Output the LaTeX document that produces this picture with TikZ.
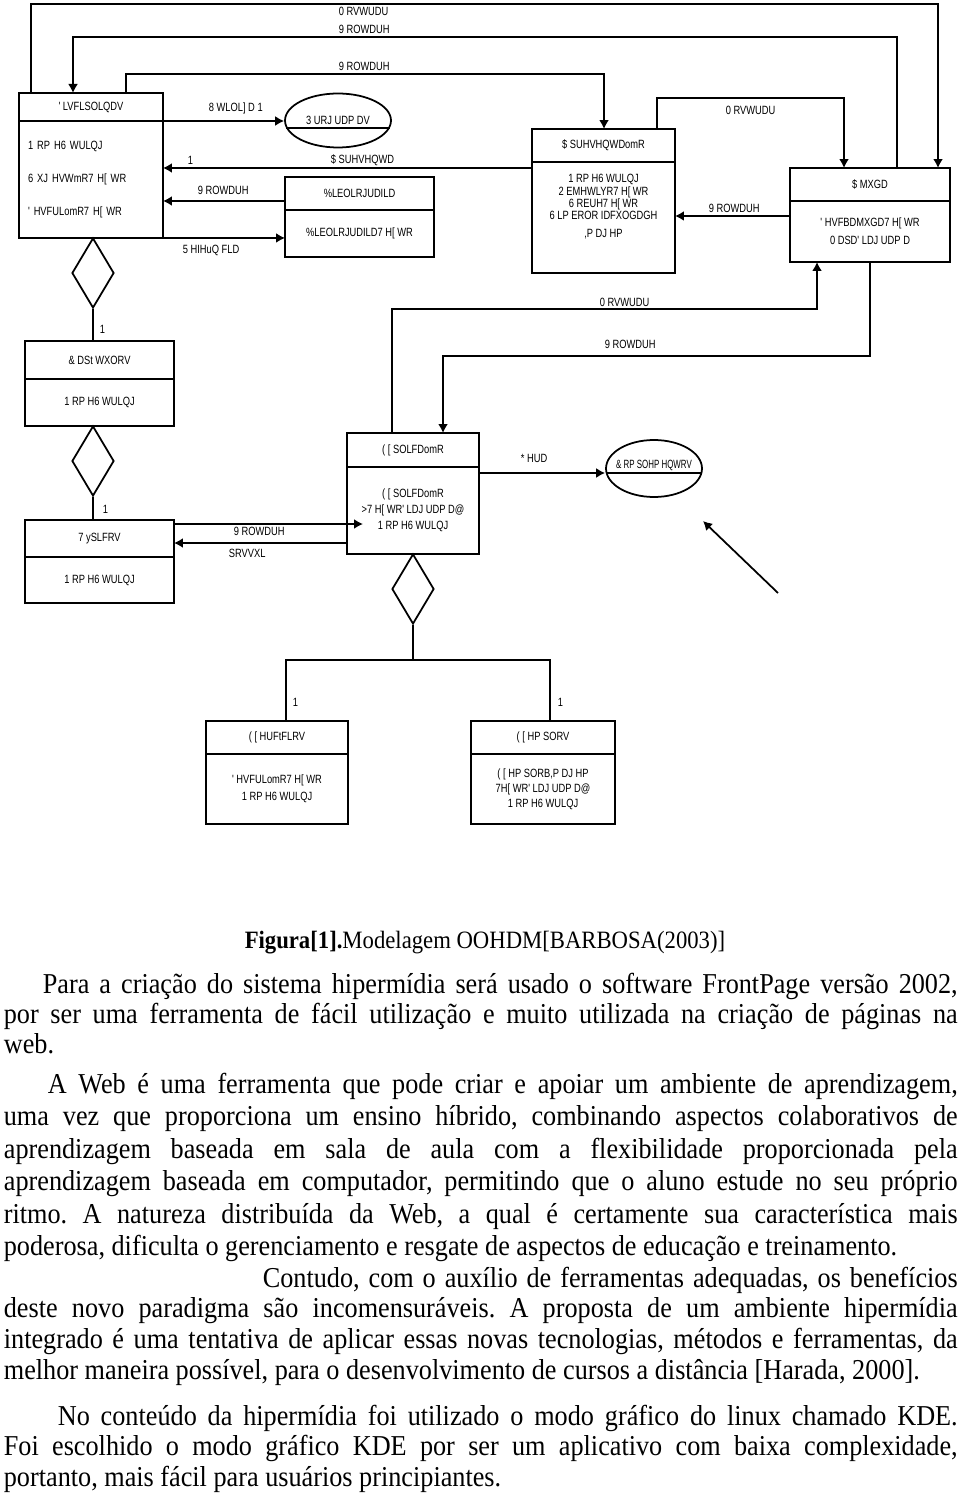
\documentclass[tikz,border=0pt]{standalone}
\usepackage{fontspec}
\setmainfont{Liberation Serif}
\newfontfamily\gfont[FakeStretch=0.78]{Liberation Sans}
\newfontfamily\bodyfont[FakeStretch=0.91]{Liberation Serif}
\usetikzlibrary{positioning,shapes.geometric,arrows.meta}
\tolerance=9999
\hbadness=10000
\frenchspacing
\tikzset{%
  gtext/.style={font=\gfont\fontsize{6.8}{8.5}\selectfont,inner sep=0},
  chead/.style={draw,gtext,inner sep=0,outer sep=0},
  cbody/.style={draw,gtext,inner sep=0,outer sep=0,align=center},
  rel/.style={diamond,draw,inner sep=0,minimum width=0.84cm,minimum height=1.4cm},
  oval/.style={ellipse,draw,inner sep=0},
  para/.style={font=\bodyfont\fontsize{16.4}{#1}\selectfont,text width=19.08cm,align=justify,inner sep=0,anchor=base west}
}
\begin{document}
\begin{tikzpicture}[x=0.02cm,y=-0.02cm,line width=1pt,>={Latex[length=1.8mm,width=2mm]}]
  \useasboundingbox (0,0) rectangle (960,1496);

  % classes
  \node[chead,minimum width=2.88cm,minimum height=0.56cm] (disc) at (91,107) {' LVFLSOLQDV};
  \node[cbody,below=0pt of disc,minimum height=2.34cm,text width=2.52cm,inner xsep=0.18cm,align=left,
        font=\gfont\fontsize{6.8}{18.7}\selectfont] (disc-b) {1 RP H6 WULQJ\\6 XJ HVWmR7 H[ WR\\' HVFULomR7 H[ WR};
  \node[oval,minimum width=2.12cm,minimum height=1.08cm] (prog) at (338,120.5) {};
  \node[gtext] (prog-t) at (338,120) {3 URJ UDP DV};
  \node[chead,minimum width=2.86cm,minimum height=0.66cm] (apres) at (603.5,145.5) {\$ SUHVHQWDomR};
  \node[cbody,below=0pt of apres,minimum width=2.86cm,minimum height=2.22cm,
        font=\gfont\fontsize{6.8}{7.1}\selectfont] (apres-b)
        {1 RP H6 WULQJ\\2 EMHWLYR7 H[ WR\\6 REUH7 H[ WR\\6 LP EROR IDFXOGDGH\\[3pt],P DJ HP\\[6pt]};
  \node[chead,minimum width=2.98cm,minimum height=0.66cm] (bib) at (359.5,193.5) {\%LEOLRJUDILD};
  \node[cbody,below=0pt of bib,minimum width=2.98cm,minimum height=0.94cm] (bib-b) {\%LEOLRJUDILD7 H[ WR};
  \node[chead,minimum width=3.2cm,minimum height=0.66cm] (ajuda) at (870,184.5) {\$ MXGD};
  \node[cbody,below=0pt of ajuda,minimum width=3.2cm,minimum height=1.22cm,
        font=\gfont\fontsize{6.8}{10}\selectfont] (ajuda-b) {' HVFBDMXGD7 H[ WR\\0 DSD' LDJ UDP D};
  \node[rel] (r1) at (93,273) {};
  \node[chead,minimum width=2.98cm,minimum height=0.76cm] (capi) at (99.5,360) {\& DSt WXORV};
  \node[cbody,below=0pt of capi,minimum width=2.98cm,minimum height=0.94cm] (capi-b) {1 RP H6 WULQJ};
  \node[rel] (r2) at (93,461) {};
  \node[chead,minimum width=2.98cm,minimum height=0.74cm] (topi) at (99.5,538.5) {7 ySLFRV};
  \node[cbody,below=0pt of topi,minimum width=2.98cm,minimum height=0.92cm] (topi-b) {1 RP H6 WULQJ};
  \node[chead,minimum width=2.64cm,minimum height=0.68cm] (expl) at (413,450) {( [ SOLFDomR};
  \node[cbody,below=0pt of expl,minimum width=2.64cm,minimum height=1.74cm,
        font=\gfont\fontsize{6.8}{9}\selectfont] (expl-b) {( [ SOLFDomR\\>7 H[ WR' LDJ UDP D@\\1 RP H6 WULQJ};
  \node[oval,minimum width=1.92cm,minimum height=1.14cm] (compl) at (654,468.5) {};
  \node[gtext] (compl-t) at (654,465) {\scalebox{0.85}[1]{\& RP SOHP HQWRV}};
  \node[rel] (r3) at (413,589) {};
  \node[chead,minimum width=2.84cm,minimum height=0.66cm] (exer) at (277,737.5) {( [ HUFtFLRV};
  \node[cbody,below=0pt of exer,minimum width=2.84cm,minimum height=1.4cm,
        font=\gfont\fontsize{6.8}{9.5}\selectfont] (exer-b) {' HVFULomR7 H[ WR\\1 RP H6 WULQJ};
  \node[chead,minimum width=2.88cm,minimum height=0.66cm] (exem) at (543,737.5) {( [ HP SORV};
  \node[cbody,below=0pt of exem,minimum width=2.88cm,minimum height=1.4cm] (exem-b)
        {( [ HP SORB,P DJ HP\\7H[ WR' LDJ UDP D@\\1 RP H6 WULQJ};

  \draw (prog.188) -- (prog.352);
  \draw (compl.185) -- (compl.355);

  % links
  \draw[->] (31,0 |- disc.north) -- (31,4) -| (ajuda.north -| 938,0);
  \node[gtext,anchor=west] (l1) at (338,11) {0 RVWUDU};
  \draw[->] (897,0 |- ajuda.north) -- (897,37) -| (73,0 |- disc.north);
  \node[gtext,anchor=west] (l2) at (338,29) {9 ROWDUH};
  \draw[->] (126,0 |- disc.north) -- (126,74) -| (604,0 |- apres.north);
  \node[gtext,anchor=west] (l3) at (338,66) {9 ROWDUH};
  \draw[->] (disc.south east) -- (disc.south east -| prog.west);
  \node[gtext,anchor=west] (l4) at (208,108) {8 WLOL] D 1};
  \draw[->] (apres-b.west |- 0,168) -- (disc-b.east |- 0,168);
  \node[gtext,anchor=west] (l5) at (187,160) {1};
  \node[gtext,anchor=west] (l6) at (330,160) {\$ SUHVHQWD};
  \draw[->] (bib.west |- 0,201) -- (disc-b.east |- 0,201);
  \node[gtext,anchor=west] (l7) at (197,190) {9 ROWDUH};
  \draw[->] (disc-b.south east) -- (disc-b.south east -| bib-b.west);
  \node[gtext,anchor=west] (l8) at (182,250) {5 HIHuQ FLD};
  \draw[->] (ajuda-b.west |- 0,216) -- (apres-b.east |- 0,216);
  \node[gtext,anchor=west] (l9) at (708,208) {9 ROWDUH};
  \draw[->] (657,0 |- apres.north) -- (657,98) -| (844,0 |- ajuda.north);
  \node[gtext,anchor=west] (l10) at (725,110) {0 RVWUDU};
  \draw[->] (392,0 |- expl.north) -- (392,309) -| (817,0 |- ajuda-b.south);
  \node[gtext,anchor=west] (l11) at (599,302) {0 RVWUDU};
  \draw[->] (870,0 |- ajuda-b.south) -- (870,356) -| (443,0 |- expl.north);
  \node[gtext,anchor=west] (l12) at (604,344) {9 ROWDUH};

  \draw (r1.south) -- (r1.south |- capi.north);
  \node[gtext,anchor=west] (l13) at (99,329) {1};
  \draw (r2.south) -- (r2.south |- topi.north);
  \node[gtext,anchor=west] (l14) at (102,509) {1};

  \coordinate (tipin) at (363,524);
  \draw[->] (topi.east |- tipin) -- (tipin);
  \draw[->] (expl-b.west |- 0,543) -- (topi.east |- 0,543);
  \node[gtext,anchor=west] (l15) at (233,531) {9 ROWDUH};
  \node[gtext,anchor=west] (l16) at (228,553) {SRVVXL};
  \draw[->] (expl-b.east |- 0,473) -- (compl.west |- 0,473);
  \node[gtext,anchor=west] (l17) at (520,458) {* HUD};
  \coordinate (fa) at (778,593);
  \coordinate (fb) at (703,521);
  \draw[->] (fa) -- (fb);

  \draw (r3.south) -- (r3.south |- 0,660) coordinate (bus);
  \draw (exer.north -| 286,0) |- (bus) -| (exem.north -| 550,0);
  \node[gtext,anchor=west] (l18) at (292,702) {1};
  \node[gtext,anchor=west] (l19) at (557,702) {1};

  % text
  \node[font=\bodyfont\fontsize{14.2}{16}\selectfont,anchor=base,inner sep=0] (cap) at (485,948)
    {\textbf{Figura[1].}Modelagem OOHDM[BARBOSA(2003)]};
  \node[para=17.3pt] (txt1) at (3,993) {\hspace*{0.78cm}Para a criação do sistema hipermídia será usado o software FrontPage versão 2002,\linebreak
    por ser uma ferramenta de fácil utilização e muito utilizada na criação de páginas na\linebreak
    web.};
  \node[para=18.5pt] (txt2) at (3,1093) {\hspace*{0.88cm}A Web é uma ferramenta que pode criar e apoiar um ambiente de aprendizagem,\linebreak
    uma vez que proporciona um ensino híbrido, combinando aspectos colaborativos de\linebreak
    aprendizagem baseada em sala de aula com a flexibilidade proporcionada pela\linebreak
    aprendizagem baseada em computador, permitindo que o aluno estude no seu próprio\linebreak
    ritmo. A natureza distribuída da Web, a qual é certamente sua característica mais\linebreak
    poderosa, dificulta o gerenciamento e resgate de aspectos de educação e treinamento.};
  \node[para=17.6pt] (txt3) at (3,1287) {\hspace*{5.18cm}Contudo, com o auxílio de ferramentas adequadas, os benefícios\linebreak
    deste novo paradigma são incomensuráveis. A proposta de um ambiente hipermídia\linebreak
    integrado é uma tentativa de aplicar essas novas tecnologias, métodos e ferramentas, da\linebreak
    melhor maneira possível, para o desenvolvimento de cursos a distância [Harada, 2000].};
  \node[para=17.6pt] (txt4) at (3,1425) {\hspace*{1.08cm}No conteúdo da hipermídia foi utilizado o modo gráfico do linux chamado KDE.\linebreak
    Foi escolhido o modo gráfico KDE por ser um aplicativo com baixa complexidade,\linebreak
    portanto, mais fácil para usuários principiantes.};
\end{tikzpicture}
\end{document}
